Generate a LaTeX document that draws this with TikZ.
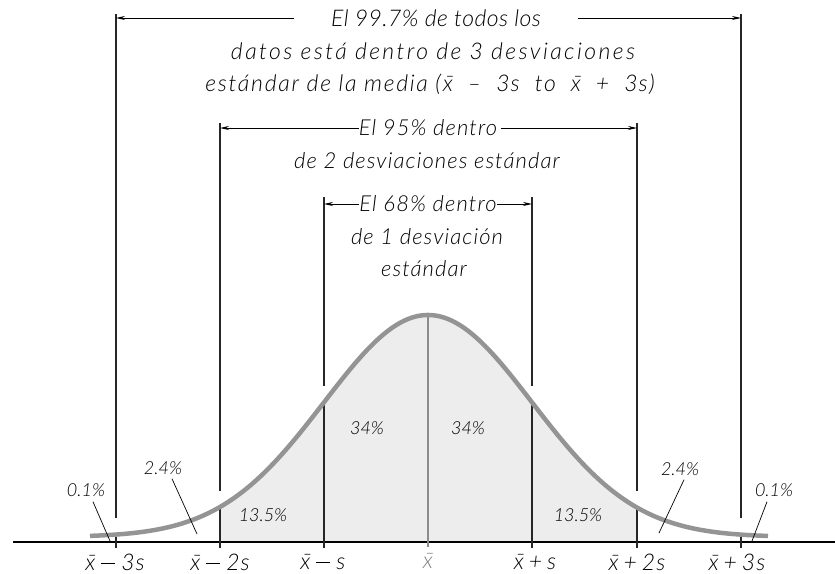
\documentclass[tikz,border=0pt]{standalone}
\usepackage{fontspec}
\setmainfont{Lato}[UprightFont=* Light, ItalicFont=* Light Italic]
\usetikzlibrary{arrows.meta}
\newcommand{\mymin}{\hspace{6pt}\rule[6.5pt]{14pt}{0.9pt}\hspace{6pt}}
\newcommand{\myplus}{\hspace{5pt}+\hspace{5pt}}
\begin{document}
\begin{tikzpicture}[x=1pt,y=-1pt,
  txtA/.style={inner sep=0pt, font=\fontsize{23}{27}\selectfont\itshape\addfontfeature{LetterSpace=#1}},
  txt/.style={inner sep=0pt, font=\fontsize{22}{26}\selectfont\itshape\addfontfeature{LetterSpace=5}},
  pct/.style={inner sep=0pt, font=\fontsize{18}{22}\selectfont\itshape},
  axl/.style={inner sep=0pt, font=\fontsize{23}{27}\selectfont\itshape},
  vline/.style={line width=1.1pt, black!85},
  arr/.style={line width=0.9pt, -{Stealth[length=9pt,width=4pt]}},
  lead/.style={line width=0.7pt},
  curve/.style={line width=4.5pt, color=black!42},
]
\useasboundingbox (0,0) rectangle (835,573);
% fill
\fill[black!7] (220,542) -- plot[domain=220:637, samples=120] (\x, {537-222*exp(-((\x-428)/104)*((\x-428)/104)/2)}) -- (637,542) -- cycle;
% axis
\coordinate (axl) at (13,542);
\coordinate (axr) at (835,542);
\draw[line width=1.2pt] (axl) -- (axr);
% mean line
\coordinate (mt) at (428,315);
\coordinate (mb) at (428,547);
\draw[line width=1.2pt, black!45] (mt) -- (mb);
% vertical lines (top part, then lower part)
\coordinate (v3lt) at (116,14); \coordinate (v3lg) at (116,518);
\coordinate (v3lc) at (116,537); \coordinate (v3lb) at (116,548);
\coordinate (v2lt) at (220,123); \coordinate (v2lg) at (220,491);
\coordinate (v2lc) at (220,507); \coordinate (v2lb) at (220,548);
\coordinate (v1lt) at (324,197); \coordinate (v1lg) at (324,386);
\coordinate (v1lc) at (324,402); \coordinate (v1lb) at (324,548);
\coordinate (v1rt) at (532,197); \coordinate (v1rg) at (532,386);
\coordinate (v1rc) at (532,402); \coordinate (v1rb) at (532,548);
\coordinate (v2rt) at (637,123); \coordinate (v2rg) at (637,491);
\coordinate (v2rc) at (637,507); \coordinate (v2rb) at (637,548);
\coordinate (v3rt) at (741,14); \coordinate (v3rg) at (741,518);
\coordinate (v3rc) at (741,537); \coordinate (v3rb) at (741,548);
\foreach \v in {v3l,v2l,v1l,v1r,v2r,v3r}{
  \draw[vline] (\v t) -- (\v g);
  \draw[vline] (\v c) -- (\v b);
}
% curve
\draw[curve] plot[domain=90:768, samples=200] (\x, {537-222*exp(-((\x-428)/104)*((\x-428)/104)/2)});
% top texts
\node[txtA=2] (t1a) at (436,18) {El 99.7\% de todos los};
\node[txtA=10.5] (t1b) at (433,51) {datos está dentro de 3 desviaciones};
\node[txtA=7.5] (t1c) at (430,84) {estándar de la media (\={x}\ \ – \ 3\kern1pt s\ \ to \ \={x} \ + \ 3\kern1pt s)};
\node[txt] (t2a) at (428,128) {El 95\% dentro};
\node[txt] (t2b) at (427,161) {de 2 desviaciones estándar};
\node[txt] (t3a) at (428,204) {El 68\% dentro};
\node[txt] (t3b) at (427,237) {de 1 desviación};
\node[txt] (t3c) at (424,269) {estándar};
% arrows
\coordinate (a1l) at (294,18); \coordinate (a1r) at (578,18);
\coordinate (a1le) at (116,18); \coordinate (a1re) at (741,18);
\draw[arr] (a1l) -- (a1le);
\draw[arr] (a1r) -- (a1re);
\coordinate (a2le) at (220,128); \coordinate (a2re) at (637,128);
\draw[arr] (t2a.west) -- (a2le);
\draw[arr] ([xshift=4pt]t2a.east) -- (a2re);
\coordinate (a3le) at (324,204); \coordinate (a3re) at (532,204);
\draw[arr] (t3a.west) -- (a3le);
\draw[arr] (t3a.east) -- (a3re);
% percent labels
\node[pct] (p34l) at (367,428) {34\%};
\node[pct] (p34r) at (468,428) {34\%};
\node[pct] (p135l) at (263,515) {13.5\%};
\node[pct] (p135r) at (578,515) {13.5\%};
\node[pct] (p24l) at (163,468) {2.4\%};
\node[pct] (p24r) at (680,469) {2.4\%};
\node[pct] (p01l) at (86,490) {0.1\%};
\node[pct] (p01r) at (774,490) {0.1\%};
\coordinate (l24l) at (197,534); \coordinate (l24r) at (659,533);
\coordinate (l01l) at (110,541); \coordinate (l01r) at (752,541);
\draw[lead] ([xshift=9pt,yshift=-4pt]p24l.south) -- (l24l);
\draw[lead] ([xshift=4pt,yshift=-4pt]p24r.south) -- (l24r);
\draw[lead] ([xshift=7pt,yshift=-5pt]p01l.south) -- (l01l);
\draw[lead] ([xshift=-7pt,yshift=-5pt]p01r.south) -- (l01r);
% axis labels
\node[axl] (x3l) at (115,562) {\={x}\mymin 3\kern1pt s};
\node[axl] (x2l) at (220,562) {\={x}\mymin 2\kern1pt s};
\node[axl] (x1l) at (323,562) {\={x}\mymin s};
\node[axl, text=black!50] (x0) at (428,561) {\={x}};
\node[axl] (x1r) at (535,562) {\={x}\myplus s};
\node[axl] (x2r) at (637,562) {\={x}\myplus 2\kern1pt s};
\node[axl] (x3r) at (737,562) {\={x}\myplus 3\kern1pt s};
\end{tikzpicture}
\end{document}
